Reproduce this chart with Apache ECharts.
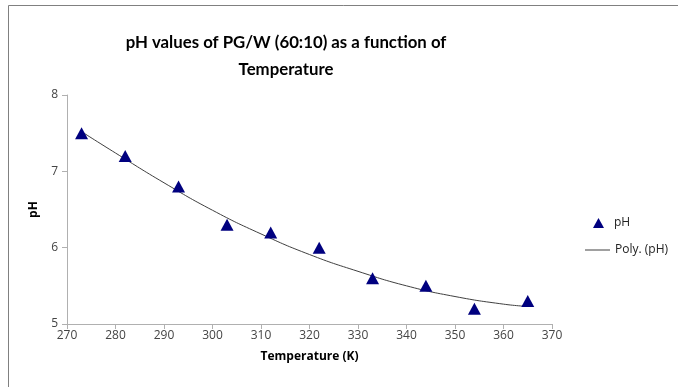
<!DOCTYPE html>
<html>
<head>
<meta charset="utf-8">
<script src="https://cdn.jsdelivr.net/npm/echarts@6/dist/echarts.min.js"></script>
<style>html,body{margin:0;padding:0;background:#fff;}#c{width:678px;height:387px;}</style>
</head>
<body>
<div id="c"></div>
<script>
// measured data (Temperature K, pH)
var temperature = [273, 282, 293, 303, 312, 322, 333, 344, 354, 365];
var phValues = [7.5, 7.2, 6.8, 6.3, 6.2, 6.0, 5.6, 5.5, 5.2, 5.3];
// polynomial trend line
var trendT = [273, 280, 290, 300, 310, 320, 330, 340, 350, 360, 365];
var trendPH = [7.52, 7.24, 6.85, 6.49, 6.18, 5.91, 5.69, 5.50, 5.36, 5.26, 5.23];
var xTicks = [270, 280, 290, 300, 310, 320, 330, 340, 350, 360, 370];
var yTicks = [5, 6, 7, 8];

var chart = echarts.init(document.getElementById('c'), null, {renderer: 'canvas'});
var font = '"Open Sans", "DejaVu Sans", sans-serif';
chart.setOption({
  animation: false,
  backgroundColor: '#fff',
  title: {
    text: 'pH values of PG/W (60:10) as a function of\nTemperature',
    left: 281, top: 24, textAlign: 'center',
    textStyle: {fontFamily: 'Lato, "Open Sans", sans-serif', fontSize: 16.8, fontWeight: 'bold', color: '#000', lineHeight: 27}
  },
  graphic: [{
    type: 'polyline', silent: true,
    shape: {points: [[8.5, 400], [8.5, 5.5], [690, 5.5]]},
    style: {stroke: '#808080', lineWidth: 1, fill: null}
  }],
  legend: [{
    orient: 'vertical', left: 588, top: 212,
    itemWidth: 11, itemHeight: 10, itemGap: 8,
    textStyle: {fontFamily: font, fontSize: 12, color: '#222', padding: [0, 0, 0, 5]},
    data: [{name: 'pH', icon: 'triangle'}]
  }, {
    orient: 'vertical', left: 580, top: 239,
    itemWidth: 25, itemHeight: 10, itemGap: 8,
    textStyle: {fontFamily: font, fontSize: 12, color: '#222'},
    data: [{name: 'Poly. (pH)', icon: 'path://M0,4.5 L25,4.5 L25,5.5 L0,5.5 Z'}]
  }],
  grid: {left: 67, right: 126, top: 95, bottom: 63},
  xAxis: {
    type: 'value', min: xTicks[0], max: xTicks[xTicks.length - 1], interval: 10,
    name: 'Temperature (K)', nameLocation: 'middle', nameGap: 27,
    nameTextStyle: {fontFamily: font, fontSize: 12, fontWeight: 'bold', color: '#000'},
    axisLine: {lineStyle: {color: '#b0b0b0'}},
    axisTick: {show: true, length: 5, lineStyle: {color: '#b0b0b0'}},
    axisLabel: {fontFamily: font, fontSize: 12, color: '#444', margin: 6},
    splitLine: {show: false}
  },
  yAxis: {
    type: 'value', min: yTicks[0], max: yTicks[yTicks.length - 1], interval: 1,
    name: 'pH', nameLocation: 'middle', nameGap: 27,
    nameTextStyle: {fontFamily: font, fontSize: 12, fontWeight: 'bold', color: '#000'},
    axisLine: {show: true, lineStyle: {color: '#b0b0b0'}},
    axisTick: {show: true, length: 5, lineStyle: {color: '#b0b0b0'}},
    axisLabel: {fontFamily: font, fontSize: 12, color: '#444', margin: 9},
    splitLine: {show: false}
  },
  series: [{
    name: 'pH', type: 'scatter', symbol: 'triangle', symbolSize: [13, 12],
    itemStyle: {color: '#00007f', opacity: 1},
    data: temperature.map(function (t, i) { return [t, phValues[i]]; }),
    z: 3
  }, {
    name: 'Poly. (pH)', type: 'line', smooth: true, showSymbol: false, symbol: 'none',
    lineStyle: {color: '#404040', width: 1},
    itemStyle: {color: '#404040'},
    data: trendT.map(function (t, i) { return [t, trendPH[i]]; }),
    z: 2
  }]
});
</script>
</body>
</html>
